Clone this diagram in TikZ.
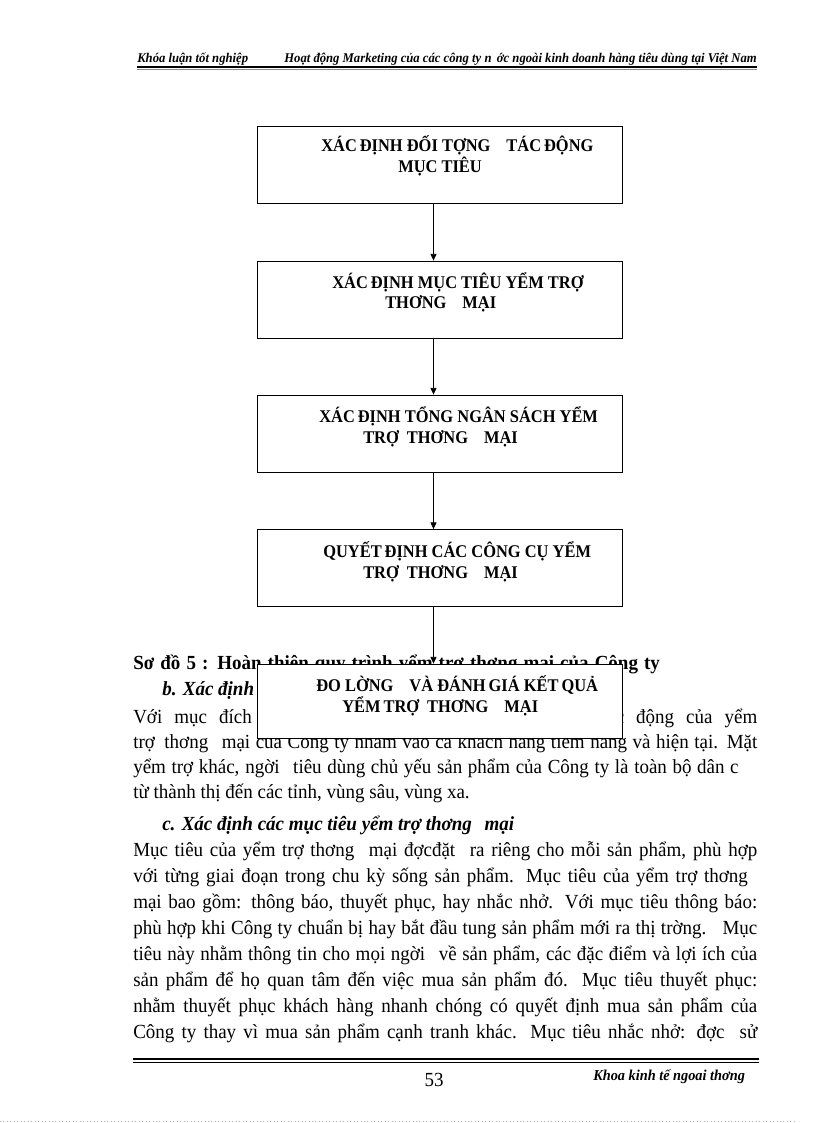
\documentclass[tikz,border=0pt]{standalone}
\usepackage{fontspec}
\setmainfont{Liberation Serif}
\newfontfamily\bodyfont{Liberation Serif}[FakeStretch=0.95]
\newfontfamily\boxfont{Liberation Serif}[FakeStretch=0.92]
\usetikzlibrary{arrows.meta,positioning,calc}
\definecolor{ink}{HTML}{000000}
\definecolor{dotgray}{HTML}{B4B4B4}
\newcommand{\jline}[2]{\makebox[#1][s]{#2}}

\begin{document}
\begin{tikzpicture}[
  x=0.75pt, y=-0.75pt, >=Triangle, line cap=butt,
  txt/.style={font=\bodyfont\fontsize{15}{19}\selectfont, anchor=base west, inner sep=0pt},
  hd/.style={txt, font=\bodyfont\fontsize{15}{19}\selectfont\bfseries},
  sub/.style={txt, font=\bodyfont\fontsize{15}{19}\selectfont\bfseries\itshape},
  run/.style={font=\bodyfont\fontsize{10}{11}\selectfont\bfseries\itshape, inner sep=0pt},
  stepbox/.style={draw=ink, fill=white, line width=0.6pt, minimum width=273.75pt,
                  minimum height=57.75pt, inner sep=0pt},
  boxlbl/.style={font=\boxfont\fontsize{13.4}{15}\selectfont\bfseries, anchor=base west, inner sep=0pt},
  fl/.style={-{Triangle[length=5pt, width=4.5pt]}, ink, line width=0.6pt}]

\useasboundingbox (0,0) rectangle (816,1123);

% ================================================ running head
\node[run, anchor=base west] (hl) at (137,63) {Khóa luận tốt nghiệp};
\node[run, anchor=base east] (hr) at (757,63)
  {Hoạt động Marketing của các công ty n\hspace{4pt}ớc ngoài kinh doanh hàng tiêu dùng tại Việt Nam};
\draw[ink, line width=1pt] ($(hl.base west)+(0,4)$) -- ($(hr.base east)+(0,4)$);
\draw[ink!45, line width=0.5pt] ($(hl.base west)+(0,6.5)$) -- ($(hr.base east)+(0,6.5)$);

% ================================================ text under the chart
\node[hd] (cap) at (133,669)
  {\jline{395pt}{Sơ đồ 5 : Hoàn thiện quy trình yểm trợ thơng mại của Công ty}};
\node[sub] (subb) at (162,695) {b. Xác định đối tợng tác động mục tiêu};
\node[txt] (p1) at (133,723)
  {\jline{468pt}{Với mục đích nâng cao doanh số, đối tợng chịu sự tác động của yểm}};
\node[txt] (p2) at (133,748)
  {\jline{468pt}{trợ\hspace{3pt} thơng\hspace{6pt} mại của Công ty nhằm vào cả khách hàng tiềm năng và hiện tại. Mặt}};
\node[txt] (p3) at (133,773)
  {\jline{454pt}{yểm trợ khác, ngời\hspace{6pt} tiêu dùng chủ yếu sản phẩm của Công ty là toàn bộ dân c}};
\node[txt] (p4) at (133,798) {từ thành thị đến các tỉnh, vùng sâu, vùng xa.};

\node[sub] (subc) at (162,830) {c. Xác định các mục tiêu yểm trợ thơng\hspace{6pt} mại};
\node[txt] (q1) at (133,856)
  {\jline{468pt}{Mục tiêu của yểm trợ thơng\hspace{6pt} mại đợcđặt\hspace{6pt} ra riêng cho mỗi sản phẩm, phù hợp}};
\node[txt] (q2) at (133,882)
  {\jline{461pt}{với từng giai đoạn trong chu kỳ sống sản phẩm. Mục tiêu của yểm trợ thơng}};
\node[txt] (q3) at (133,908)
  {\jline{468pt}{mại bao gồm: thông báo, thuyết phục, hay nhắc nhở. Với mục tiêu thông báo:}};
\node[txt] (q4) at (133,934)
  {\jline{468pt}{phù hợp khi Công ty chuẩn bị hay bắt đầu tung sản phẩm mới ra thị trờng.\hspace{6pt} Mục}};
\node[txt] (q5) at (133,960)
  {\jline{468pt}{tiêu này nhằm thông tin cho mọi ngời\hspace{6pt} về sản phẩm, các đặc điểm và lợi ích của}};
\node[txt] (q6) at (133,986)
  {\jline{468pt}{sản phẩm để họ quan tâm đến việc mua sản phẩm đó. Mục tiêu thuyết phục:}};
\node[txt] (q7) at (133,1012)
  {\jline{468pt}{nhằm thuyết phục khách hàng nhanh chóng có quyết định mua sản phẩm của}};
\node[txt] (q8) at (133,1038)
  {\jline{468pt}{Công ty thay vì mua sản phẩm cạnh tranh khác. Mục tiêu nhắc nhở: đợc\hspace{6pt} sử}};

% ================================================ the five steps
\node[stepbox] (b1) at (439.5,164.5) {};
\node[stepbox] (b2) at (439.5,299.5) {};
\node[stepbox] (b3) at (439.5,433.5) {};
\node[stepbox] (b4) at (439.5,568) {};
\node[stepbox, minimum height=55.5pt] (b5) at (439.5,701) {};

\node[boxlbl] (t1a) at (321,152) {XÁC\,ĐỊNH ĐỐI TỢNG\hspace{12pt}TÁC\,ĐỘNG};
\node[boxlbl] (t1b) at (398,173) {MỤC TIÊU};
\node[boxlbl] (t2a) at (332,288) {XÁC\,ĐỊNH MỤC TIÊU YỂM TRỢ};
\node[boxlbl] (t2b) at (385,308) {THƠNG\hspace{12pt}MẠI};
\node[boxlbl] (t3a) at (319,422) {XÁC\,ĐỊNH TỔNG NGÂN SÁCH YỂM};
\node[boxlbl] (t3b) at (363,443) {TRỢ\hspace{6pt}THƠNG\hspace{12pt}MẠI};
\node[boxlbl] (t4a) at (323,557) {QUYẾT\,ĐỊNH CÁC CÔNG CỤ YỂM};
\node[boxlbl] (t4b) at (363,578) {TRỢ\hspace{6pt}THƠNG\hspace{12pt}MẠI};
\node[boxlbl] (t5a) at (316,691) {ĐO LỜNG\hspace{12pt}VÀ ĐÁNH\,GIÁ KẾT\,QUẢ};
\node[boxlbl] (t5b) at (342,712) {YỂM\,TRỢ\hspace{6pt}THƠNG\hspace{12pt}MẠI};

\foreach \a/\b in {b1/b2, b2/b3, b3/b4, b4/b5}
  \draw[fl] ([xshift=-4.5pt]\a.south) -- ([xshift=-4.5pt]\b.north);

% ================================================ foot of the page
\draw[ink, line width=1.1pt] (133,1059) -- (759,1059);
\draw[ink, line width=0.6pt] (133,1062.5) -- (759,1062.5);
\node[txt, anchor=base] (pg) at (434,1086) {53};
\node[run, anchor=base west, font=\bodyfont\fontsize{11.3}{12}\selectfont\bfseries\itshape] (ft) at (593,1080)
  {Khoa kinh tế ngoai thơng};
\draw[dotgray, dotted, line width=0.6pt] (0,1121) -- (795,1121);

\end{tikzpicture}
\end{document}
